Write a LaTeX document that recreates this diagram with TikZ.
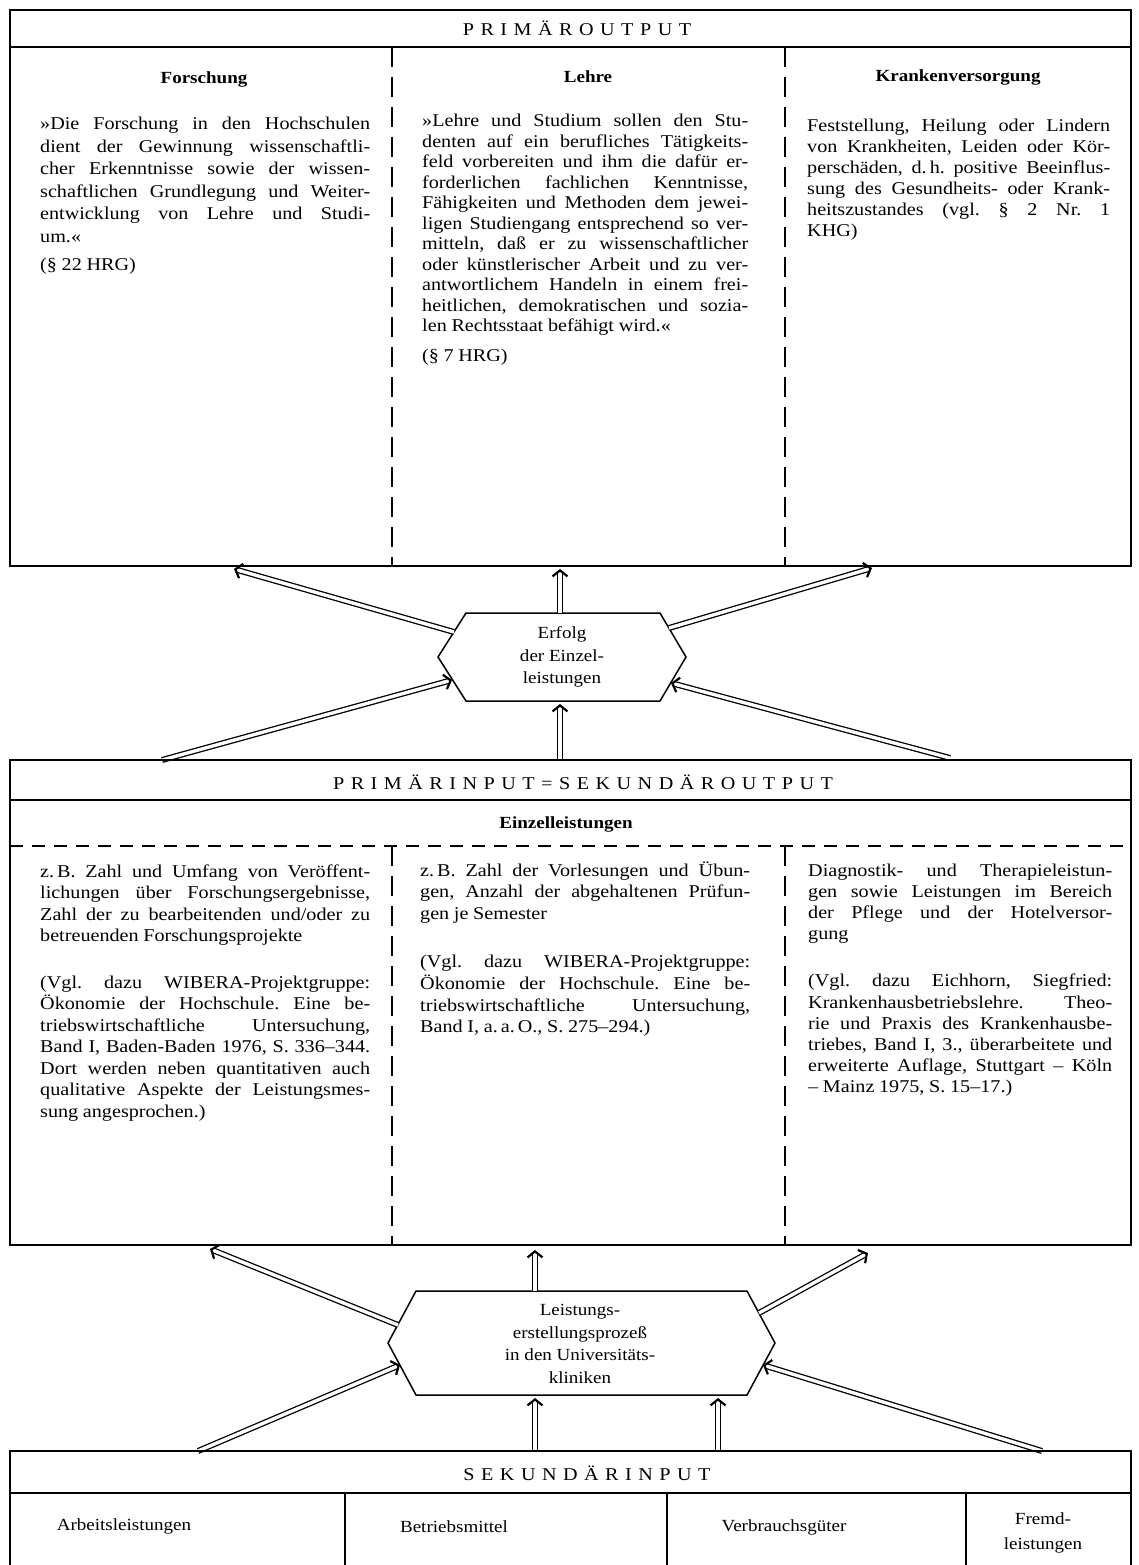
\documentclass[tikz,border=0pt]{standalone}
\usepackage{fontspec}
\setmainfont{Liberation Serif}[FakeStretch=1.12]
\usetikzlibrary{arrows.meta,calc}

\tolerance=10000
\hyphenpenalty=10000
\exhyphenpenalty=10000

% spaced capitals for the block titles
\def\capgap{6.5pt}
\def\spreadcaps#1{\spreadcapsA#1\relax}
\def\spreadcapsA#1{\ifx\relax#1\unskip\else#1\hskip\capgap\relax\expandafter\spreadcapsA\fi}
\newcommand\bodyfont[1]{\fontsize{18}{#1}\selectfont\frenchspacing
  \spaceskip=.26em plus 1.5em minus .14em\relax}

\tikzset{
  frame/.style={line width=1.7pt},
  colsep/.style={line width=1.5pt, dash pattern=on 20pt off 10pt},
  rowsep/.style={line width=1.5pt, dash pattern=on 13pt off 9pt},
  caps/.style={font=\fontsize{18}{20}\selectfont, inner sep=0pt},
  headbold/.style={font=\fontsize{17}{20}\selectfont\bfseries, inner sep=0pt},
  coltext/.style={anchor=base west, inner sep=0pt, align=justify},
  hexa/.style={line width=1.5pt},
  hextext/.style={align=center, font=\fontsize{17}{22.5}\selectfont, inner sep=0pt},
  celltext/.style={align=center, font=\fontsize{17}{25}\selectfont, inner sep=0pt},
  dblline/.style={double, double distance=3.4pt, line width=1.3pt, shorten >=2.5pt},
  headtip/.style={white, line width=3pt, -{Straight Barb[black, length=6pt, width=15pt, line width=2.2pt]}},
}

\begin{document}
\begin{tikzpicture}[x=1pt,y=1pt,yscale=-1]
\useasboundingbox (0,0) rectangle (1138,1565);

%Primaeroutput
\draw[frame] (10,10) rectangle (1131,566);
\draw[frame] (10,47) -- (1131,47);
\draw[colsep] (392,47) -- (392,566);
\draw[colsep] (785,47) -- (785,566);
\node[caps] (primout) at (577,28) {\spreadcaps{PRIMÄROUTPUT}};

\node[headbold] (forsch) at (204,79) {Forschung};
\node[headbold] (lehre) at (588,77) {Lehre};
\node[headbold] (kranken) at (958,77) {Krankenversorgung};

\node[coltext, text width=330pt, font=\bodyfont{22.5}] (forschT) at (40,130) {%
»Die Forschung in den Hochschulen\linebreak
dient der Gewinnung wissenschaftli-\linebreak
cher Erkenntnisse sowie der wissen-\linebreak
schaftlichen Grundlegung und Weiter-\linebreak
entwicklung von Lehre und Studi-\linebreak
um.«\par\vspace{6pt}
(§ 22 HRG)};

\node[coltext, text width=326pt, font=\bodyfont{20.5}] (lehreT) at (422,127) {%
»Lehre und Studium sollen den Stu-\linebreak
denten auf ein berufliches Tätigkeits-\linebreak
feld vorbereiten und ihm die dafür er-\linebreak
forderlichen fachlichen Kenntnisse,\linebreak
Fähigkeiten und Methoden dem jewei-\linebreak
ligen Studiengang entsprechend so ver-\linebreak
mitteln, daß er zu wissenschaftlicher\linebreak
oder künstlerischer Arbeit und zu ver-\linebreak
antwortlichem Handeln in einem frei-\linebreak
heitlichen, demokratischen und sozia-\linebreak
len Rechtsstaat befähigt wird.«\par\vspace{9pt}
(§ 7 HRG)};

\node[coltext, text width=303pt, font=\bodyfont{21}] (krankenT) at (807,132) {%
Feststellung, Heilung oder Lindern\linebreak
von Krankheiten, Leiden oder Kör-\linebreak
perschäden, d.\,h. positive Beeinflus-\linebreak
sung des Gesundheits- oder Krank-\linebreak
heitszustandes (vgl. § 2 Nr. 1\linebreak
KHG)};

%Erfolg der Einzelleistungen
\coordinate (hA-l) at (438,657);
\coordinate (hA-tl) at (466,613);
\coordinate (hA-tr) at (660,613);
\coordinate (hA-r) at (686,657);
\coordinate (hA-br) at (660,701);
\coordinate (hA-bl) at (466,701);
\draw[hexa] (hA-l) -- (hA-tl) -- (hA-tr) -- (hA-r) -- (hA-br) -- (hA-bl) -- cycle;
\node[hextext] (erfolg) at (562,657) {Erfolg\\der Einzel-\\leistungen};

\coordinate (a1s) at (454,632); \coordinate (a1e) at (234,569);
\coordinate (a2s) at (560,613); \coordinate (a2e) at (560,569);
\coordinate (a3s) at (669,628); \coordinate (a3e) at (872,568);
\coordinate (a4s) at (162,760); \coordinate (a4e) at (452,680);
\coordinate (a5s) at (950,758); \coordinate (a5e) at (671,683);
\coordinate (a6s) at (560,760); \coordinate (a6e) at (560,704);
\foreach \i in {1,...,6} {
  \draw[dblline] (a\i s) -- (a\i e);
  \draw[headtip] ($(a\i e)!10pt!(a\i s)$) -- (a\i e);
}

%Primaerinput = Sekundaeroutput
\draw[frame] (10,760) rectangle (1131,1245);
\draw[frame] (10,800) -- (1131,800);
\node[caps] (priminp) at (583,782) {\spreadcaps{PRIMÄRINPUT=SEKUNDÄROUTPUT}};
\node[headbold] (einzel) at (566,824) {Einzelleistungen};
\draw[rowsep] (10,846) -- (1131,846);
\draw[colsep] (392,846) -- (392,1245);
\draw[colsep] (785,846) -- (785,1245);

\node[coltext, text width=330pt, font=\bodyfont{21.5}] (einzelA) at (40,877) {%
z.\,B. Zahl und Umfang von Veröffent-\linebreak
lichungen über Forschungsergebnisse,\linebreak
Zahl der zu bearbeitenden und/oder zu\linebreak
betreuenden Forschungsprojekte\par\vspace{25pt}
(Vgl. dazu WIBERA-Projektgruppe:\linebreak
Ökonomie der Hochschule. Eine be-\linebreak
triebswirtschaftliche Untersuchung,\linebreak
Band I, Baden-Baden 1976, S. 336–344.\linebreak
Dort werden neben quantitativen auch\linebreak
qualitative Aspekte der Leistungsmes-\linebreak
sung angesprochen.)};

\node[coltext, text width=330pt, font=\bodyfont{21.8}] (einzelB) at (420,876) {%
z.\,B. Zahl der Vorlesungen und Übun-\linebreak
gen, Anzahl der abgehaltenen Prüfun-\linebreak
gen je Semester\par\vspace{26pt}
(Vgl. dazu WIBERA-Projektgruppe:\linebreak
Ökonomie der Hochschule. Eine be-\linebreak
triebswirtschaftliche Untersuchung,\linebreak
Band I, a.\,a.\,O., S. 275–294.)};

\node[coltext, text width=304pt, font=\bodyfont{21.2}] (einzelC) at (808,876) {%
Diagnostik- und Therapieleistun-\linebreak
gen sowie Leistungen im Bereich\linebreak
der Pflege und der Hotelversor-\linebreak
gung\par\vspace{26pt}
(Vgl. dazu Eichhorn, Siegfried:\linebreak
Krankenhausbetriebslehre. Theo-\linebreak
rie und Praxis des Krankenhausbe-\linebreak
triebes, Band I, 3., überarbeitete und\linebreak
erweiterte Auflage, Stuttgart – Köln\linebreak
– Mainz 1975, S. 15–17.)};

%Leistungserstellungsprozess
\coordinate (hB-l) at (388,1343);
\coordinate (hB-tl) at (416,1291);
\coordinate (hB-tr) at (747,1291);
\coordinate (hB-r) at (775,1343);
\coordinate (hB-br) at (747,1395);
\coordinate (hB-bl) at (416,1395);
\draw[hexa] (hB-l) -- (hB-tl) -- (hB-tr) -- (hB-r) -- (hB-br) -- (hB-bl) -- cycle;
\node[hextext] (prozess) at (580,1344) {Leistungs-\\erstellungsprozeß\\in den Universitäts-\\kliniken};

\coordinate (b1s) at (398,1325); \coordinate (b1e) at (210,1249);
\coordinate (b2s) at (535,1291); \coordinate (b2e) at (535,1250);
\coordinate (b3s) at (759,1313); \coordinate (b3e) at (868,1253);
\coordinate (b4s) at (198,1451); \coordinate (b4e) at (400,1365);
\coordinate (b5s) at (535,1451); \coordinate (b5e) at (535,1398);
\coordinate (b6s) at (718,1451); \coordinate (b6e) at (718,1398);
\coordinate (b7s) at (1042,1451); \coordinate (b7e) at (763,1365);
\foreach \i in {1,...,7} {
  \draw[dblline] (b\i s) -- (b\i e);
  \draw[headtip] ($(b\i e)!10pt!(b\i s)$) -- (b\i e);
}

%Sekundaerinput
\draw[frame] (10,1565) -- (10,1451) -- (1131,1451) -- (1131,1565);
\draw[frame] (10,1493) -- (1131,1493);
\foreach \x in {345,667,966} \draw[frame] (\x,1493) -- (\x,1565);
\node[caps] (sekinp) at (587,1473) {\spreadcaps{SEKUNDÄRINPUT}};
\node[celltext] (arbeit) at (124,1526) {Arbeitsleistungen};
\node[celltext] (betrieb) at (454,1527) {Betriebsmittel};
\node[celltext] (verbrauch) at (784,1527) {Verbrauchsgüter};
\node[celltext] (fremd) at (1043,1533) {Fremd-\\leistungen};

\end{tikzpicture}
\end{document}
